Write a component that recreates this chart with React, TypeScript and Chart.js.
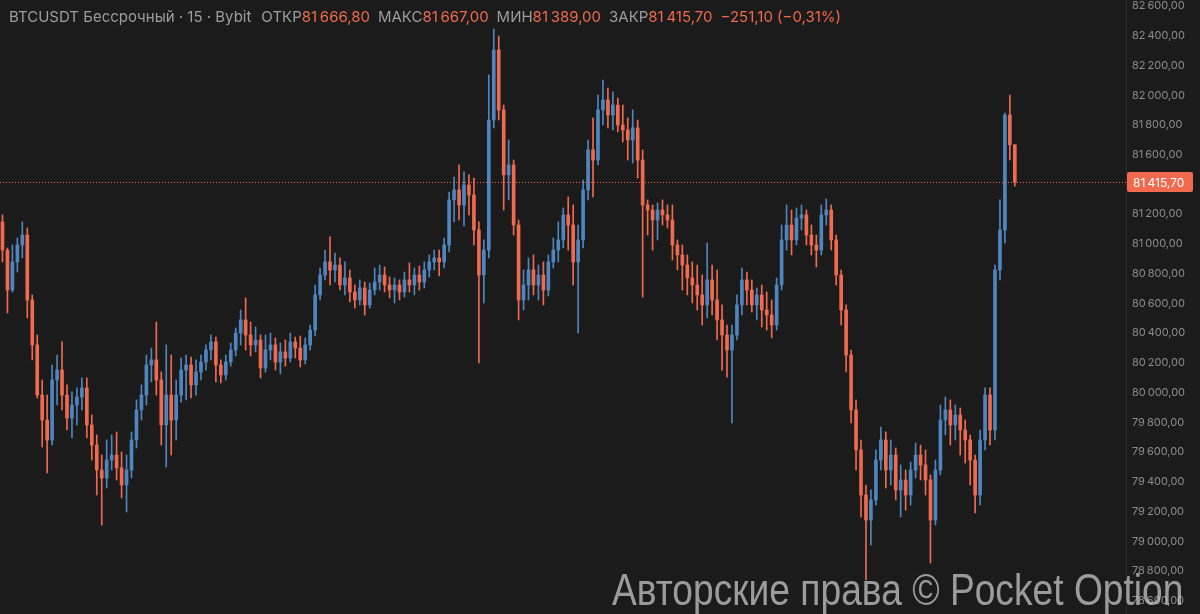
import React, { useEffect, useRef } from 'react';
import { Chart, registerables } from 'chart.js';

Chart.register(...registerables);

const opens = [81148,80959,80690,80879,80993,81060,80623,80321,79984,79816,79682,80085,80152,79984,79830,79917,79971,80032,79783,79648,79480,79426,79547,79581,79494,79379,79480,79682,79884,79984,80186,80220,80085,79783,79984,79816,79984,80152,80186,80052,80139,80206,80287,80341,80186,80119,80206,80287,80401,80489,80388,80321,80354,80166,80287,80321,80206,80274,80233,80341,80300,80220,80321,80421,80657,80791,80879,80825,80858,80724,80771,80677,80623,80704,80590,80690,80744,80791,80724,80690,80724,80677,80758,80724,80791,80744,80825,80879,80906,80879,80993,81296,81363,81262,81396,81329,81094,80791,80959,81833,82304,81901,81464,81531,81127,80623,80724,80825,80724,80791,80690,80879,80959,81027,81195,81127,80879,81027,81363,81632,81564,81901,81968,81867,81934,81800,81766,81699,81780,81564,81262,81228,81161,81228,81195,81161,80993,80926,80858,80771,80724,80657,80590,80758,80623,80489,80388,80287,80388,80590,80758,80690,80590,80657,80556,80522,80455,80724,81027,81127,81027,81174,81195,81060,80993,80959,81195,81228,81027,80791,80556,80253,79884,79615,79312,79144,79279,79547,79682,79480,79581,79346,79413,79312,79480,79581,79514,79413,79144,79480,79816,79884,79783,79850,79749,79682,79547,79312,79682,79984,79749,80825,81094,81867,81666.8];

const highs = [81195,80973,80993,81040,81148,81107,80657,80388,80085,79984,80186,80253,80341,80052,80005,80032,80099,80099,79850,79716,79581,79682,79716,79736,79601,79581,79736,79951,80052,80253,80300,80475,80139,80321,80253,80085,80233,80253,80240,80220,80253,80321,80388,80374,80220,80253,80334,80435,80556,80637,80475,80442,80388,80388,80401,80368,80334,80354,80401,80374,80381,80368,80455,80724,80838,80959,81047,80939,80906,80879,80825,80724,80758,80744,80737,80838,80858,80845,80778,80771,80758,80811,80872,80838,80852,80879,80926,80959,80959,81040,81349,81450,81531,81484,81464,81443,81148,81027,82136,82445,82398,81934,81699,81564,81161,80825,80906,80926,80858,80879,80926,81040,81148,81242,81316,81262,81127,81430,81699,81847,82001,82102,82048,82022,81981,81934,81847,81901,81833,81632,81296,81262,81275,81296,81262,81262,81027,80993,80926,80879,80858,80791,81006,80858,80825,80590,80455,80455,80657,80838,80811,80758,80704,80724,80677,80623,80771,81127,81262,81228,81242,81262,81228,81127,81060,81262,81302,81262,81060,80825,80590,80287,79951,79682,79379,79346,79615,79769,79736,79682,79628,79514,79480,79534,79662,79648,79615,79447,79547,79917,79971,79951,79917,79897,79816,79716,79581,79749,80032,80032,80858,81296,81880,82001,81667];

const lows = [80879,80536,80677,80811,80906,80502,80220,79964,79635,79460,79648,79917,79884,79749,79695,79783,79884,79695,79547,79312,79110,79359,79480,79413,79292,79198,79426,79628,79816,79917,80072,79984,79648,79500,79581,79682,79937,79951,79964,79984,80085,80152,80220,80072,80065,80085,80179,80247,80321,80287,80247,80274,80099,80139,80220,80152,80126,80179,80206,80233,80173,80193,80287,80381,80623,80758,80724,80744,80690,80657,80610,80569,80590,80522,80569,80657,80690,80677,80637,80603,80623,80643,80677,80657,80690,80704,80778,80825,80785,80838,80946,81148,81161,81121,81195,80993,80200,80603,80906,81780,81833,81228,81296,81060,80489,80556,80623,80657,80623,80590,80650,80838,80879,80973,80959,80724,80401,80973,81296,81316,81531,81800,81780,81766,81753,81685,81564,81544,81443,80643,81060,80959,81027,81127,81107,80892,80825,80690,80657,80603,80556,80455,80502,80522,80354,80152,80105,79796,80354,80522,80590,80542,80489,80442,80421,80368,80421,80690,80959,80926,80993,81094,80993,80926,80845,80926,81127,80959,80724,80455,80139,79796,79480,79164,78741,78976,79245,79480,79359,79379,79279,79164,79211,79245,79426,79413,79312,78855,79110,79447,79716,79648,79682,79581,79527,79379,79191,79245,79615,79648,79682,80758,81006,81564,81389];

const closes = [80959,80690,80879,80993,81060,80623,80321,79984,79816,79682,80085,80152,79984,79830,79917,79971,80032,79783,79648,79480,79426,79547,79581,79494,79379,79480,79682,79884,79984,80186,80220,80085,79783,79984,79816,79984,80152,80186,80052,80139,80206,80287,80341,80186,80119,80206,80287,80401,80489,80388,80321,80354,80166,80287,80321,80206,80274,80233,80341,80300,80220,80321,80421,80657,80791,80879,80825,80858,80724,80771,80677,80623,80704,80590,80690,80744,80791,80724,80690,80724,80677,80758,80724,80791,80744,80825,80879,80906,80879,80993,81296,81363,81262,81396,81329,81094,80791,80959,81833,82304,81901,81464,81531,81127,80623,80724,80825,80724,80791,80690,80879,80959,81027,81195,81127,80879,81027,81363,81632,81564,81901,81968,81867,81934,81800,81766,81699,81780,81564,81262,81228,81161,81228,81195,81161,80993,80926,80858,80771,80724,80657,80590,80758,80623,80489,80388,80287,80388,80590,80758,80690,80590,80657,80556,80522,80455,80724,81027,81127,81027,81174,81195,81060,80993,80959,81195,81228,81027,80791,80556,80253,79884,79615,79312,79144,79279,79547,79682,79480,79581,79346,79413,79312,79480,79581,79514,79413,79144,79480,79816,79884,79783,79850,79749,79682,79547,79312,79682,79984,79749,80825,81094,81867,81666.8,81415.7];

const yTicks = [78600,78800,79000,79200,79400,79600,79800,80000,80200,80400,80600,80800,81000,81200,81400,81600,81800,82000,82200,82400,82600];

const lastPrice = 81415.7;
const headerTitle = 'BTCUSDT Бессрочный · 15 · Bybit';
const headerLabels = ['ОТКР', 'МАКС', 'МИН', 'ЗАКР'];
const headerValues = ['81\u202F666,80', '81\u202F667,00', '81\u202F389,00', '81\u202F415,70'];
const headerChange = '\u2212251,10 (\u22120,31%)';
const watermark = 'Авторские права © Pocket Option';

const UP = '#4f86c0';
const DOWN = '#ef6a4e';
const BG = '#1b1b1b';

const fmt = (v: number) => {
  const s = v.toFixed(2);
  const [i, d] = s.split('.');
  return i.replace(/\B(?=(\d{3})+(?!\d))/g, '\u202F') + ',' + d;
};

const priceLinePlugin = {
  id: 'priceLine',
  afterDatasetsDraw(chart: any) {
    const { ctx, chartArea, scales } = chart;
    const y = Math.round(scales.y.getPixelForValue(lastPrice)) + 0.5;
    ctx.save();
    ctx.strokeStyle = DOWN;
    ctx.lineWidth = 1;
    ctx.setLineDash([1, 2]);
    ctx.beginPath();
    ctx.moveTo(chartArea.left, y);
    ctx.lineTo(chartArea.right, y);
    ctx.stroke();
    ctx.restore();
  },
  afterDraw(chart: any) {
    const { ctx, chartArea, scales } = chart;
    const y = scales.y.getPixelForValue(lastPrice);
    const x0 = chartArea.right + 1;
    const w = 66;
    const h = 20;
    ctx.save();
    ctx.fillStyle = '#f26a4d';
    ctx.beginPath();
    ctx.roundRect(x0, Math.round(y - h / 2), w, h, 2);
    ctx.fill();
    ctx.fillStyle = '#ffffff';
    ctx.font = '12px Inter, "Noto Sans", sans-serif';
    ctx.textBaseline = 'middle';
    ctx.textAlign = 'left';
    ctx.fillText(fmt(lastPrice), x0 + 6, Math.round(y) + 1);
    ctx.restore();
  },
};

export default function App() {
  const ref = useRef<HTMLCanvasElement | null>(null);

  useEffect(() => {
    if (!ref.current) return;
    const colors = closes.map((c, i) => (c >= opens[i] ? UP : DOWN));
    const chart = new Chart(ref.current, {
      type: 'bar',
      data: {
        datasets: [
          {
            label: 'body',
            data: opens.map((o, i) => ({ x: i, y: [o, closes[i]] })) as any,
            backgroundColor: colors,
            borderWidth: 0,
            barThickness: 3,
            minBarLength: 1,
            grouped: false,
          } as any,
          {
            label: 'wick',
            data: lows.map((l, i) => ({ x: i, y: [l, highs[i]] })) as any,
            backgroundColor: colors,
            borderWidth: 0,
            barThickness: 1,
            grouped: false,
          } as any,
        ],
      },
      options: {
        animation: false,
        responsive: false,
        devicePixelRatio: 1,
        layout: { padding: 0 },
        plugins: { legend: { display: false }, tooltip: { enabled: false } },
        scales: {
          x: {
            type: 'linear',
            display: false,
            offset: false,
            grid: { offset: false },
            min: -0.5,
            max: 226.4,
          } as any,
          y: {
            position: 'right',
            min: 78512,
            max: 82640,
            grid: { display: false, drawTicks: false },
            border: { display: true, color: '#2c2c2c' },
            ticks: {
              color: '#8c8c8c',
              font: { family: 'Inter, "Noto Sans", sans-serif', size: 11 },
              padding: 6,
              callback: (v: any) => fmt(Number(v)),
            },
            afterBuildTicks: (scale: any) => {
              scale.ticks = yTicks.map((v) => ({ value: v }));
            },
            afterFit: (scale: any) => {
              scale.width = 74;
              scale.paddingTop = 0;
              scale.paddingBottom = 0;
            },
          } as any,
        },
      },
      plugins: [priceLinePlugin],
    });
    return () => chart.destroy();
  }, []);

  return (
    <div style={{ position: 'fixed', left: 0, top: 0, width: 1200, height: 614, background: BG, overflow: 'hidden' }}>
      <canvas ref={ref} width={1200} height={614} style={{ position: 'absolute', left: 0, top: 0 }} />
      <div
        style={{
          position: 'absolute',
          left: 9,
          top: 8,
          fontFamily: 'Inter, "Noto Sans", sans-serif',
          fontSize: 15,
          color: '#9d9d9d',
          whiteSpace: 'nowrap',
          lineHeight: '18px',
        }}
      >
        <span>{headerTitle}</span>
        {headerLabels.map((l, i) => (
          <span key={l} style={{ marginLeft: i === 0 ? 10 : 8 }}>
            {l}
            <span style={{ color: DOWN }}>{headerValues[i]}</span>
          </span>
        ))}
        <span style={{ marginLeft: 8, color: DOWN }}>{headerChange}</span>
      </div>
      <div
        style={{
          position: 'absolute',
          left: 612,
          top: 568,
          fontFamily: '"Liberation Sans", Arial, sans-serif',
          fontSize: 44,
          color: 'rgba(205,205,205,0.72)',
          whiteSpace: 'nowrap',
          lineHeight: '44px',
          transform: 'scaleX(0.845)',
          transformOrigin: 'left top',
        }}
      >
        {watermark}
      </div>
    </div>
  );
}
